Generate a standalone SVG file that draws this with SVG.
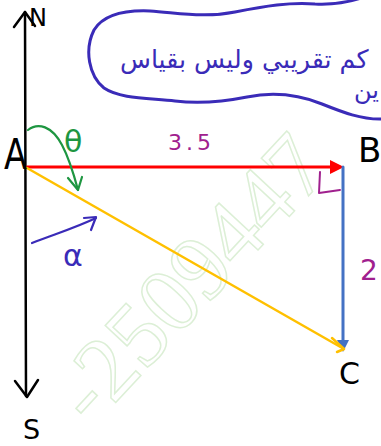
<svg xmlns="http://www.w3.org/2000/svg" width="381" height="446" viewBox="0 0 381 446">
<style>
.lbl{font-family:"DejaVu Sans","Liberation Sans",sans-serif;}
.blk{fill:#000;}
.pur{fill:#a0208e;}
.ink{fill:none;stroke-linecap:round;stroke-linejoin:round;}
.wm{font-family:"Liberation Serif","DejaVu Serif",serif;font-size:92px;fill:none;stroke:#dcefd6;stroke-width:1.5;}
</style>
<rect width="381" height="446" fill="#fff"/>
<g id="watermark">
<text class="wm" x="0" y="0" transform="translate(92,428) rotate(-47)">-2509447</text>
</g>
<g id="note">
<path class="ink" stroke="#3a2bb8" stroke-width="3" d="M 383,119 C 362,120 342,112 322,104 C 297,94 272,92 247,97 C 222,102 200,104 175,101 C 150,98 120,99 104,88 C 89,76 84,50 94,30 C 104,14 125,10 150,11 C 180,13 205,18 235,12 C 265,6 290,2 315,4 C 335,5 350,2 364,-3"/>
<text class="lbl" x="120" y="68" font-size="25.3" fill="#3a2bb8">كم تقريبي وليس بقياس</text>
<text class="lbl" x="354" y="98" font-size="24" fill="#3a2bb8">ين</text>
</g>
<g id="connectors">
<g id="axis-NS">
<path class="ink" stroke="#000" stroke-width="2.5" d="M 25,12 L 26,396"/>
<path class="ink" stroke="#000" stroke-width="2.5" d="M 14,27 L 25,12 L 35,26"/>
<path class="ink" stroke="#000" stroke-width="2.5" d="M 15,381 L 27,397 L 38,380"/>
</g>
<g id="AB">
<path class="ink" stroke="#ff0000" stroke-width="3" d="M 27,167 L 332,167"/>
<path fill="#ff0000" d="M 330,160 L 344,167 L 330,174 Z"/>
</g>
<g id="BC">
<path class="ink" stroke="#4472c4" stroke-width="3" d="M 343,167 L 343,342"/>
<path fill="#4472c4" d="M 337,340 L 349,340 L 343,352 Z"/>
</g>
<g id="AC">
<path class="ink" stroke="#ffc000" stroke-width="2.5" d="M 27,168 L 344,349"/>
<path class="ink" stroke="#ffc000" stroke-width="2.5" d="M 332,338 L 344,349 L 337,352"/>
</g>
<g id="theta-arc">
<path class="ink" stroke="#1e9641" stroke-width="2.2" d="M 28,130 C 38,122 52,126 62,145 C 70,160 74,175 78,190"/>
<path class="ink" stroke="#1e9641" stroke-width="2.2" d="M 68,178 L 78,190 L 82,177"/>
</g>
<g id="alpha-arrow">
<path class="ink" stroke="#3a2bb8" stroke-width="2.2" d="M 32,243 C 55,234 75,228 96,218"/>
<path class="ink" stroke="#3a2bb8" stroke-width="2.2" d="M 84,218 L 96,217 L 91,230"/>
</g>
<g id="right-angle">
<path class="ink" stroke="#a0208e" stroke-width="2" d="M 320,172 L 319,193 L 340,190"/>
</g>
</g>
<g id="N"><text class="lbl blk" x="29" y="26" font-size="24">N</text></g>
<g id="S"><text class="lbl blk" x="23" y="439" font-size="27">S</text></g>
<g id="A"><text class="lbl blk" transform="translate(4,169) scale(0.8,1)" font-size="42">A</text></g>
<g id="B"><text class="lbl blk" x="358" y="162" font-size="34">B</text></g>
<g id="C"><text class="lbl blk" x="339" y="384" font-size="30">C</text></g>
<g id="len-AB"><text class="lbl pur" x="168" y="150" font-size="22" letter-spacing="4">3.5</text></g>
<g id="len-BC"><text class="lbl pur" x="360" y="280" font-size="28">2</text></g>
<g id="theta"><text class="lbl" x="64" y="152" font-size="30" fill="#1e9641">θ</text></g>
<g id="alpha"><text class="lbl" x="63" y="266" font-size="30" fill="#3a2bb8">α</text></g>
</svg>
